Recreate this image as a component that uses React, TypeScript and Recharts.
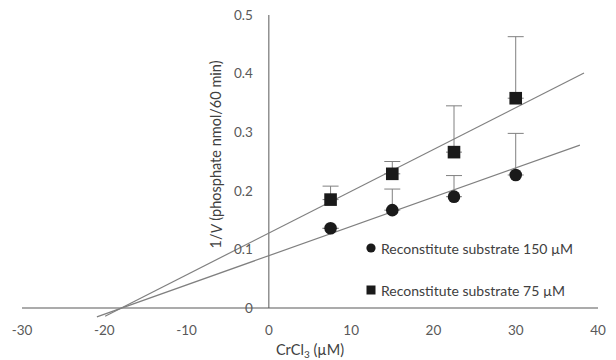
import React from "react";
import {
  ScatterChart,
  Scatter,
  XAxis,
  YAxis,
  ErrorBar,
  ReferenceLine,
  ReferenceDot,
  Legend,
  Label,
} from "recharts";

const doses = [7.5, 15, 22.5, 30];
const inv150 = [0.136, 0.167, 0.19, 0.227];
const err150 = [0, 0.036, 0.036, 0.071];
const inv75 = [0.185, 0.229, 0.266, 0.358];
const err75 = [0.023, 0.021, 0.079, 0.105];

// trendline ends (forecast back past the x intercept)
const fit150X = [-20.9, 37.8];
const fit150Y = [-0.015, 0.278];
const fit75X = [-19.9, 38.3];
const fit75Y = [-0.014, 0.401];

const xTicks = [-30, -20, -10, 0, 10, 20, 30, 40];
const yTicks = [0, 0.1, 0.2, 0.3, 0.4, 0.5];
const seriesNames = ["Reconstitute substrate 150 µM", "Reconstitute substrate 75 µM"];

const FONT = "Lato, 'Open Sans', sans-serif";
const INK = "#1a1a1a";
const GRID = "#808080";

const pts150 = doses.map((x, i) => ({ x, y: inv150[i], err: [0, err150[i]] }));
const pts75 = doses.map((x, i) => ({ x, y: inv75[i], err: [0, err75[i]] }));
const line150 = fit150X.map((x, i) => ({ x, y: fit150Y[i] }));
const line75 = fit75X.map((x, i) => ({ x, y: fit75Y[i] }));

const CircleMark = (props: any) => <circle cx={props.cx} cy={props.cy} r={6.3} fill={INK} />;
const SquareMark = (props: any) => (
  <rect x={props.cx - 6.3} y={props.cy - 6.3} width={12.6} height={12.6} fill={INK} />
);
const NoMark = () => <g />;

const XTitle = (props: any) => {
  const { x, y, width } = props.viewBox;
  return (
    <text x={x + width / 2} y={y + 38} textAnchor="middle" fill="#404040" fontSize={14.5} fontFamily={FONT}>
      CrCl
      <tspan fontSize={10} dy={3}>3</tspan>
      <tspan dy={-3}> (µM)</tspan>
    </text>
  );
};

// drawn beside the y axis line (x = 0)
const YTitle = (props: any) => {
  const cx = props.viewBox.x - 53;
  const cy = props.viewBox.y;
  return (
    <text
      x={cx}
      y={cy}
      transform={`rotate(-90 ${cx} ${cy})`}
      textAnchor="middle"
      dominantBaseline="central"
      fill="#404040"
      fontSize={14.5}
      fontFamily={FONT}
    >
      1/<tspan fontStyle="italic">V</tspan> (phosphate nmol/60 min)
    </text>
  );
};

const LegendBox = () => (
  <div style={{ fontFamily: FONT, fontSize: 14, color: "#404040" }}>
    {seriesNames.map((name, i) => (
      <div key={name} style={{ display: "flex", alignItems: "center", height: 20, marginBottom: 22 }}>
        <svg width={10} height={10}>
          {i === 0 ? <circle cx={5} cy={5} r={4.6} fill={INK} /> : <rect x={0.5} y={0.5} width={9} height={9} fill={INK} />}
        </svg>
        <span style={{ marginLeft: 5, whiteSpace: "nowrap" }}>{name}</span>
      </div>
    ))}
  </div>
);

export default function App() {
  return (
    <div style={{ position: "absolute", left: 0, top: 0, background: "#fff" }}>
      <ScatterChart width={616} height={360} margin={{ top: 15, right: 18, bottom: 12.6, left: 22 }}>
        <XAxis
          dataKey="x"
          type="number"
          domain={[-30, 40]}
          ticks={xTicks}
          interval={0}
          axisLine={false}
          tickLine={false}
          height={30}
          tick={{ fill: "#595959", fontSize: 13.5, fontFamily: FONT }}
        >
          <Label content={<XTitle />} />
        </XAxis>
        <YAxis dataKey="y" type="number" domain={[-0.016, 0.5]} hide />
        <ReferenceLine segment={[{ x: -30, y: 0 }, { x: 40, y: 0 }]} stroke="#595959" strokeWidth={1.2} />
        <ReferenceLine segment={[{ x: 0, y: 0 }, { x: 0, y: 0.5 }]} stroke="#595959" strokeWidth={1} />
        {yTicks.map((v) => (
          <ReferenceDot
            key={v}
            x={0}
            y={v}
            r={0}
            fill="none"
            stroke="none"
            label={{ value: String(v), position: "left", offset: 16, fill: "#595959", fontSize: 13.5, fontFamily: FONT }}
          />
        ))}
        <ReferenceDot x={0} y={0.262} r={0} fill="none" stroke="none" label={<YTitle />} />
        <Scatter data={line150} line={{ stroke: GRID, strokeWidth: 1.2 }} shape={NoMark} isAnimationActive={false} legendType="none" />
        <Scatter data={line75} line={{ stroke: GRID, strokeWidth: 1.2 }} shape={NoMark} isAnimationActive={false} legendType="none" />
        <Scatter name={seriesNames[0]} data={pts150} shape={CircleMark} isAnimationActive={false}>
          <ErrorBar dataKey="err" direction="y" width={8} stroke={GRID} strokeWidth={1} />
        </Scatter>
        <Scatter name={seriesNames[1]} data={pts75} shape={SquareMark} isAnimationActive={false}>
          <ErrorBar dataKey="err" direction="y" width={8} stroke={GRID} strokeWidth={1} />
        </Scatter>
        <Legend
          layout="horizontal"
          align="center"
          verticalAlign="middle"
          content={<LegendBox />}
          wrapperStyle={{ left: 366, top: 238, width: 240 }}
        />
      </ScatterChart>
    </div>
  );
}
